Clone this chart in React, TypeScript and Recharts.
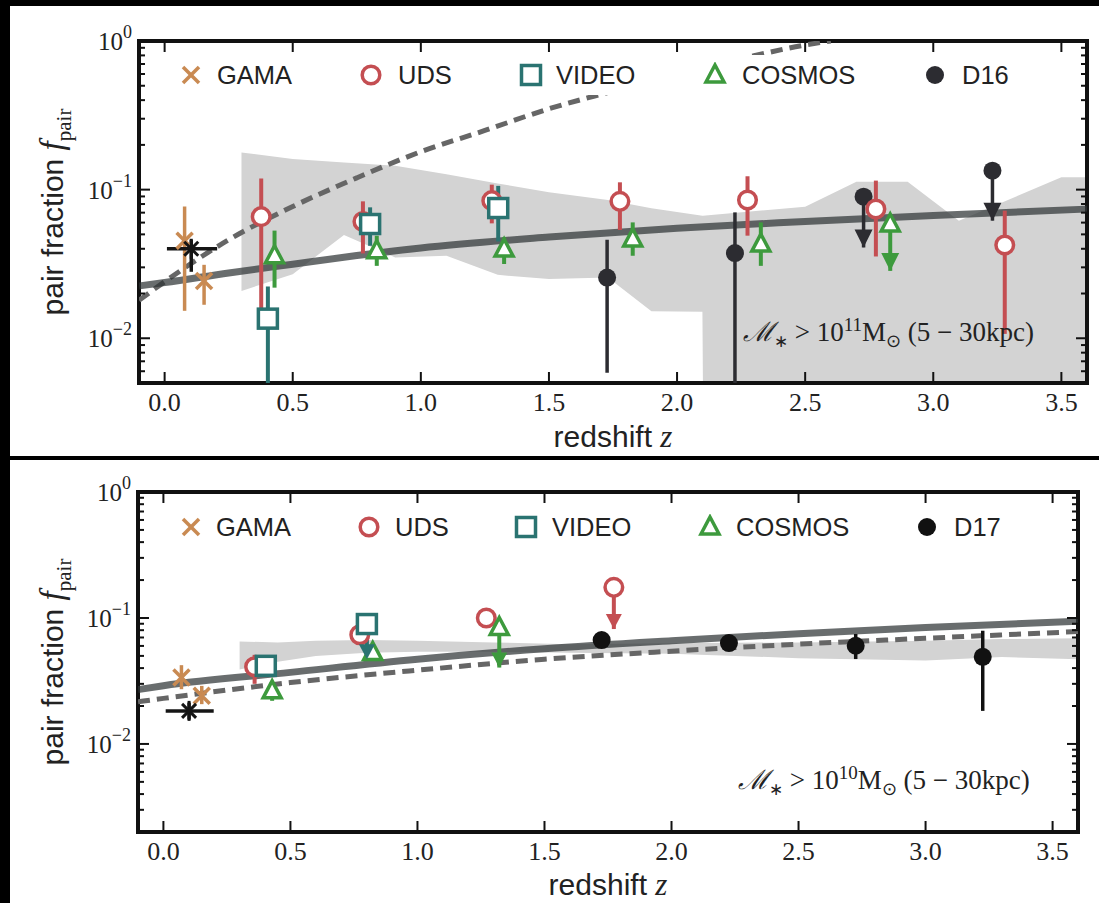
import { Area, ComposedChart, ErrorBar, Legend, Line, ReferenceArea, Scatter, XAxis, YAxis } from 'recharts'

const SANS = '"Liberation Sans", Arial, Helvetica, sans-serif'
const SERIF = '"Liberation Serif", "Times New Roman", Times, serif'
const INK = '#222'

const C_GAMA = '#c98a52'
const C_UDS = '#c44e52'
const C_VIDEO = '#2a7371'
const C_COSMOS = '#3d9a3d'
const C_D16 = '#2c2c31'
const C_D17 = '#111111'
const C_BAND = '#d3d3d3'

const xTicks = [0, 0.5, 1, 1.5, 2, 2.5, 3, 3.5]

// ---- top panel: M* > 1e11 ----
const bandTopZ = [0.3, 0.5, 0.7, 0.9, 1.1, 1.3, 1.5, 1.73, 1.9, 2.099, 2.101, 2.5, 2.7, 2.9, 3.1, 3.5, 3.6]
const bandTopLo = [0.0208, 0.027, 0.0495, 0.035, 0.0359, 0.0267, 0.025, 0.0256, 0.0152, 0.0151, 0.005, 0.005, 0.005, 0.005, 0.005, 0.005, 0.005]
const bandTopHi = [0.178, 0.161, 0.152, 0.145, 0.127, 0.11, 0.096, 0.085, 0.075, 0.0668, 0.0668, 0.0768, 0.113, 0.113, 0.0618, 0.121, 0.121]

const fitTopZ = [-0.1, 0, 0.25, 0.5, 0.75, 1.0, 1.5, 2.0, 2.5, 3.0, 3.6]
const fitTopF = [0.0225, 0.0237, 0.0275, 0.0315, 0.036, 0.0405, 0.048, 0.055, 0.061, 0.067, 0.074]

const dashTopZ = [-0.1, 0, 0.25, 0.5, 0.75, 1.0, 1.25, 1.5, 1.75, 2.0, 2.25, 2.5, 2.6]
const dashTopF = [0.018, 0.024, 0.046, 0.077, 0.12, 0.18, 0.25, 0.35, 0.46, 0.6, 0.76, 0.94, 1.0]

const gamaTopZ = [0.078, 0.154]
const gamaTopF = [0.0453, 0.0243]
const gamaTopLo = [0.0153, 0.0168]
const gamaTopHi = [0.077, 0.0312]

const udsTopZ = [0.377, 0.774, 1.277, 1.777, 2.275, 2.776, 3.279]
const udsTopF = [0.0658, 0.0611, 0.0843, 0.0834, 0.0852, 0.0741, 0.0424]
const udsTopLo = [0.016, 0.0372, 0.0593, 0.0535, 0.049, 0.0355, 0.0107]
const udsTopHi = [0.119, 0.0834, 0.108, 0.112, 0.123, 0.115, 0.0722]

const videoTopZ = [0.403, 0.802, 1.302]
const videoTopF = [0.01355, 0.0587, 0.0752]
const videoTopLo = [0.005, 0.0419, 0.0448]
const videoTopHi = [0.0223, 0.076, 0.106]

const cosmosTopZ = [0.429, 0.828, 1.325, 1.827, 2.327, 2.832]
const cosmosTopF = [0.0359, 0.0388, 0.0398, 0.0465, 0.043, 0.0587]
const cosmosTopLo = [0.0219, 0.0307, 0.0316, 0.0359, 0.0307, 0.0284]
const cosmosTopHi = [0.053, 0.049, 0.0477, 0.0602, 0.0602, 0.0587]

const d16Z = [1.727, 2.226, 2.728, 3.231]
const d16F = [0.0256, 0.0374, 0.0897, 0.134]
const d16Lo = [0.00586, 0.005, 0.0408, 0.0618]
const d16Hi = [0.046, 0.0703, 0.0897, 0.134]

const starTopZ = [0.104]
const starTopF = [0.04]
const starTopLo = [0.028]
const starTopHi = [0.046]
const starTopZLo = [0.009]
const starTopZHi = [0.205]

// upper-limit arrow tips
const d16LimZ = [2.728, 3.231]
const d16LimF = [0.0408, 0.0618]
const cosmosTopLimZ = [2.832]
const cosmosTopLimF = [0.0284]

// ---- bottom panel: M* > 1e10 ----
const bandBotZ = [0.3, 0.45, 0.6, 0.8, 1.0, 1.3, 1.6, 2.0, 2.5, 3.0, 3.3, 3.6]
const bandBotLo = [0.039, 0.045, 0.05, 0.053, 0.054, 0.054, 0.053, 0.052, 0.048, 0.046, 0.049, 0.047]
const bandBotHi = [0.065, 0.064, 0.066, 0.067, 0.066, 0.064, 0.062, 0.063, 0.064, 0.066, 0.068, 0.069]

const fitBotZ = [-0.1, 0, 0.5, 1.0, 1.5, 2.0, 2.5, 3.0, 3.6]
const fitBotF = [0.027, 0.029, 0.037, 0.047, 0.057, 0.066, 0.075, 0.084, 0.094]
const dashBotF = [0.0216, 0.023, 0.0307, 0.0385, 0.047, 0.0545, 0.062, 0.069, 0.078]

const gamaBotZ = [0.071, 0.151]
const gamaBotF = [0.0337, 0.0241]
const gamaBotLo = [0.0272, 0.0207]
const gamaBotHi = [0.0422, 0.0289]

const udsBotZ = [0.359, 0.773, 1.271, 1.773]
const udsBotF = [0.041, 0.0736, 0.1, 0.175]
const udsBotLo = [0.03, 0.0736, 0.1, 0.0817]
const udsBotHi = [0.051, 0.0736, 0.1, 0.175]

const videoBotZ = [0.403, 0.801]
const videoBotF = [0.0417, 0.0895]
const videoBotLo = [0.037, 0.0471]
const videoBotHi = [0.047, 0.0895]

const cosmosBotZ = [0.428, 0.824, 1.322]
const cosmosBotF = [0.0264, 0.0532, 0.0841]
const cosmosBotLo = [0.022, 0.047, 0.0404]
const cosmosBotHi = [0.031, 0.059, 0.0841]

const d17Z = [1.725, 2.226, 2.725, 3.225]
const d17F = [0.0668, 0.0632, 0.0602, 0.0492]
const d17Lo = [0.058, 0.056, 0.0472, 0.0183]
const d17Hi = [0.075, 0.071, 0.0746, 0.0792]

const starBotZ = [0.101]
const starBotF = [0.0183]
const starBotLo = [0.0156]
const starBotHi = [0.0213]
const starBotZLo = [0.009]
const starBotZHi = [0.198]

const udsBotLimZ = [1.773]
const udsBotLimF = [0.0817]
const videoBotLimZ = [0.801]
const videoBotLimF = [0.0471]
const cosmosBotLimZ = [1.322]
const cosmosBotLimF = [0.0404]

// ---- helpers ----
const logTicks = (lo: number) => {
	const out: number[] = []
	for (let e = -3; e <= 0; e++) {
		for (let k = 1; k <= 9; k++) {
			const v = k * Math.pow(10, e)
			if (v >= lo - 1e-12 && v <= 1 + 1e-12) out.push(v)
		}
	}
	return out
}

const line = (z: number[], f: number[]) => z.map((v, i) => ({ z: v, f: f[i] }))
const range = (z: number[], lo: number[], hi: number[]) => z.map((v, i) => ({ z: v, f: [lo[i], hi[i]] }))
const points = (z: number[], f: number[], lo: number[], hi: number[]) =>
	z.map((v, i) => ({ z: v, f: f[i], err: [f[i] - lo[i], hi[i] - f[i]] }))
const starRows = (z: number[], f: number[], lo: number[], hi: number[], zlo: number[], zhi: number[]) =>
	z.map((v, i) => ({ z: v, f: f[i], err: [f[i] - lo[i], hi[i] - f[i]], zerr: [v - zlo[i], zhi[i] - v] }))

// ---- marker shapes ----
const xMark = (color: string) => (p: any) => (
	<g stroke={color} strokeWidth={3.5}>
		<line x1={p.cx - 8} y1={p.cy - 8} x2={p.cx + 8} y2={p.cy + 8} />
		<line x1={p.cx - 8} y1={p.cy + 8} x2={p.cx + 8} y2={p.cy - 8} />
	</g>
)
const ring = (color: string) => (p: any) => <circle cx={p.cx} cy={p.cy} r={8.8} fill="#fff" stroke={color} strokeWidth={3.5} />
const box = (color: string) => (p: any) => (
	<rect x={p.cx - 9.5} y={p.cy - 9.5} width={19} height={19} fill="#fff" stroke={color} strokeWidth={3.5} />
)
const tri = (color: string) => (p: any) => (
	<path d={`M${p.cx} ${p.cy - 10}L${p.cx + 9} ${p.cy + 7}L${p.cx - 9} ${p.cy + 7}Z`} fill="#fff" stroke={color} strokeWidth={3.5} />
)
const dot = (color: string) => (p: any) => <circle cx={p.cx} cy={p.cy} r={9} fill={color} />
const star = (color: string) => (p: any) => (
	<g stroke={color} strokeWidth={3}>
		<line x1={p.cx} y1={p.cy - 10} x2={p.cx} y2={p.cy + 10} />
		<line x1={p.cx - 7} y1={p.cy - 7} x2={p.cx + 7} y2={p.cy + 7} />
		<line x1={p.cx - 7} y1={p.cy + 7} x2={p.cx + 7} y2={p.cy - 7} />
	</g>
)
const head = (color: string, w: number, h: number) => (p: any) => (
	<path d={`M${p.cx - w / 2} ${p.cy - h}L${p.cx + w / 2} ${p.cy - h}L${p.cx} ${p.cy}Z`} fill={color} />
)

// ---- text pieces ----
const YTitle = ({ cx, cy }: { cx: number; cy: number }) => (
	<div
		style={{
			position: 'absolute', left: cx, top: cy, transform: 'translate(-50%, -50%) rotate(-90deg)',
			whiteSpace: 'nowrap', fontFamily: SANS, fontSize: 30, color: INK, lineHeight: '36px',
		}}
	>
		pair fraction <span style={{ fontFamily: SERIF, fontStyle: 'italic', fontSize: 33 }}>f</span>
		<span style={{ fontFamily: SERIF, fontSize: 21, position: 'relative', top: 8 }}>pair</span>
	</div>
)

const XTitle = ({ cx, cy }: { cx: number; cy: number }) => (
	<div
		style={{
			position: 'absolute', left: cx, top: cy, transform: 'translate(-50%, -50%)',
			whiteSpace: 'nowrap', fontFamily: SANS, fontSize: 30, color: INK, lineHeight: '36px',
		}}
	>
		redshift <span style={{ fontFamily: SERIF, fontStyle: 'italic', fontSize: 31 }}>z</span>
	</div>
)

const Note = ({ x, y, exp }: { x: number; y: number; exp: string }) => (
	<div
		style={{
			position: 'absolute', left: x, top: y, whiteSpace: 'nowrap', fontFamily: SERIF, fontSize: 27,
			color: INK, lineHeight: '32px',
		}}
	>
		<span style={{ fontStyle: 'italic' }}>ℳ</span>
		<span style={{ fontSize: 17, position: 'relative', top: 6 }}>∗</span> &gt; 10
		<span style={{ fontSize: 19, position: 'relative', top: -10 }}>{exp}</span>M
		<span style={{ fontSize: 18, position: 'relative', top: 6 }}>⊙</span> (5 − 30kpc)
	</div>
)

const legendShapes = [xMark(C_GAMA), ring(C_UDS), box(C_VIDEO), tri(C_COSMOS)]
const legendNames = ['GAMA', 'UDS', 'VIDEO', 'COSMOS']

interface IPanel {
	height: number
	margin: { top: number; right: number; bottom: number; left: number }
	yMin: number
	band: any[]
	fit: any[]
	dash: any[]
	gama: any[]
	uds: any[]
	video: any[]
	cosmos: any[]
	dark: any[]
	darkColor: string
	darkName: string
	stars: any[]
	heads: { color: string; rows: any[] }[]
	headW: number
	headH: number
	legendMarks: number[][]
	legendTop: number
}

const Panel = (props: IPanel) => {
	const { height, margin, yMin, darkColor } = props
	const width = 1099
	// axes are 1px wide/high, so the plot box is the margin box shrunk by one
	const pw = width - margin.left - margin.right - 1
	const ph = height - margin.top - margin.bottom - 1

	const renderXTick = (p: any) => {
		const { x, y, payload } = p
		return (
			<g>
				<line x1={x} x2={x} y1={y} y2={y - 11} stroke="#111" strokeWidth={2} />
				<line x1={x} x2={x} y1={y - ph} y2={y - ph + 11} stroke="#111" strokeWidth={2} />
				<text x={x} y={y + 28} textAnchor="middle" fontFamily={SERIF} fontSize={26} fill={INK}>
					{Number(payload.value).toFixed(1)}
				</text>
			</g>
		)
	}

	const renderYTick = (p: any) => {
		const { x, y, payload } = p
		const lg = Math.log10(payload.value)
		const major = Math.abs(lg - Math.round(lg)) < 1e-6
		const len = major ? 11 : 6
		const e = Math.round(lg)
		return (
			<g>
				<line x1={x} x2={x + len} y1={y} y2={y} stroke="#111" strokeWidth={2} />
				<line x1={x + pw} x2={x + pw - len} y1={y} y2={y} stroke="#111" strokeWidth={2} />
				{major && (
					<text x={x - 7} y={y + 9} textAnchor="end" fontFamily={SERIF} fontSize={25} fill={INK}>
						10
						<tspan dy={-12} fontSize={18}>
							{e === 0 ? '0' : `−${-e}`}
						</tspan>
					</text>
				)}
			</g>
		)
	}

	const renderLegend = () => {
		const left = 160
		const names = [...legendNames, props.darkName]
		const shapes = [...legendShapes, dot(darkColor)]
		return (
			<div style={{ position: 'relative', width: '100%', height: '100%', background: '#fff' }}>
				{props.legendMarks.map(([mx, tx], i) => (
					<div key={`item-${i}`}>
						<svg width={26} height={26} style={{ position: 'absolute', left: mx - left - 13, top: 7 }}>
							{shapes[i]({ cx: 13, cy: 13 })}
						</svg>
						<span
							style={{
								position: 'absolute', left: tx - left, top: 7, lineHeight: '26px', fontFamily: SANS,
								fontSize: 25.5, color: INK, whiteSpace: 'nowrap',
							}}
						>
							{names[i]}
						</span>
					</div>
				))}
			</div>
		)
	}

	return (
		<ComposedChart width={width} height={height} margin={margin}>
			<XAxis
				type="number"
				dataKey="z"
				domain={[-0.1, 3.6]}
				allowDataOverflow
				ticks={xTicks}
				interval={0}
				height={1}
				tickSize={0}
				tickMargin={0}
				axisLine={false}
				tickLine={false}
				tick={renderXTick}
			/>
			<YAxis
				type="number"
				dataKey="f"
				scale="log"
				domain={[yMin, 1]}
				allowDataOverflow
				ticks={logTicks(yMin)}
				interval={0}
				width={1}
				tickSize={0}
				tickMargin={0}
				axisLine={false}
				tickLine={false}
				tick={renderYTick}
			/>
			<Area data={props.band} dataKey="f" type="linear" stroke="none" fill={C_BAND} fillOpacity={1} isAnimationActive={false} />
			<Line
				data={props.dash}
				dataKey="f"
				type="monotone"
				stroke="#666"
				strokeWidth={5}
				strokeDasharray="12 7"
				dot={false}
				isAnimationActive={false}
			/>
			<Line
				data={props.fit}
				dataKey="f"
				type="monotone"
				stroke="#2f3436"
				strokeOpacity={0.72}
				strokeWidth={7}
				dot={false}
				isAnimationActive={false}
			/>
			<Scatter data={props.gama} dataKey="f" shape={xMark(C_GAMA)} isAnimationActive={false}>
				<ErrorBar dataKey="err" direction="y" width={0} stroke={C_GAMA} strokeWidth={3.5} />
			</Scatter>
			<Scatter data={props.stars} dataKey="f" shape={star('#151515')} isAnimationActive={false}>
				<ErrorBar dataKey="err" direction="y" width={0} stroke="#151515" strokeWidth={3.5} />
				<ErrorBar dataKey="zerr" direction="x" width={0} stroke="#151515" strokeWidth={3.5} />
			</Scatter>
			<Scatter data={props.dark} dataKey="f" shape={dot(darkColor)} isAnimationActive={false}>
				<ErrorBar dataKey="err" direction="y" width={0} stroke={darkColor} strokeWidth={3.5} />
			</Scatter>
			<Scatter data={props.uds} dataKey="f" shape={ring(C_UDS)} isAnimationActive={false}>
				<ErrorBar dataKey="err" direction="y" width={0} stroke={C_UDS} strokeWidth={4} />
			</Scatter>
			<Scatter data={props.video} dataKey="f" shape={box(C_VIDEO)} isAnimationActive={false}>
				<ErrorBar dataKey="err" direction="y" width={0} stroke={C_VIDEO} strokeWidth={4} />
			</Scatter>
			<Scatter data={props.cosmos} dataKey="f" shape={tri(C_COSMOS)} isAnimationActive={false}>
				<ErrorBar dataKey="err" direction="y" width={0} stroke={C_COSMOS} strokeWidth={4} />
			</Scatter>
			{props.heads.map((h, i) => (
				<Scatter
					key={`head-${i}`}
					data={h.rows}
					dataKey="f"
					shape={head(h.color, props.headW, props.headH)}
					isAnimationActive={false}
				/>
			))}
			<ReferenceArea x1={-0.1} x2={3.6} y1={yMin} y2={1} fill="none" stroke="#111" strokeWidth={4} ifOverflow="visible" />
			<Legend
				layout="vertical"
				align="center"
				verticalAlign="middle"
				content={renderLegend}
				wrapperStyle={{ left: 160, top: props.legendTop, width: 880, height: 40 }}
			/>
		</ComposedChart>
	)
}

const App = () => {
	return (
		<div style={{ position: 'fixed', left: 0, top: 0, width: 1099, height: 903, background: '#000', overflow: 'hidden' }}>
			<div style={{ position: 'absolute', left: 10, top: 6, width: 1089, height: 450, background: '#fff' }} />
			<div style={{ position: 'absolute', left: 10, top: 460, width: 1089, height: 443, background: '#fff' }} />

			<div style={{ position: 'absolute', left: 0, top: 0 }}>
				<Panel
					height={457}
					margin={{ top: 41, right: 12, bottom: 73, left: 138 }}
					yMin={0.005}
					band={range(bandTopZ, bandTopLo, bandTopHi)}
					fit={line(fitTopZ, fitTopF)}
					dash={line(dashTopZ, dashTopF)}
					gama={points(gamaTopZ, gamaTopF, gamaTopLo, gamaTopHi)}
					uds={points(udsTopZ, udsTopF, udsTopLo, udsTopHi)}
					video={points(videoTopZ, videoTopF, videoTopLo, videoTopHi)}
					cosmos={points(cosmosTopZ, cosmosTopF, cosmosTopLo, cosmosTopHi)}
					dark={points(d16Z, d16F, d16Lo, d16Hi)}
					darkColor={C_D16}
					darkName="D16"
					stars={starRows(starTopZ, starTopF, starTopLo, starTopHi, starTopZLo, starTopZHi)}
					heads={[
						{ color: C_D16, rows: line(d16LimZ, d16LimF) },
						{ color: C_COSMOS, rows: line(cosmosTopLimZ, cosmosTopLimF) },
					]}
					headW={18}
					headH={18}
					legendMarks={[[191, 217], [371, 398], [531, 556], [715, 742], [935, 962]]}
					legendTop={55}
				/>
			</div>
			<div style={{ position: 'absolute', left: 0, top: 460 }}>
				<Panel
					height={443}
					margin={{ top: 32, right: 21, bottom: 70, left: 137 }}
					yMin={0.002}
					band={range(bandBotZ, bandBotLo, bandBotHi)}
					fit={line(fitBotZ, fitBotF)}
					dash={line(fitBotZ, dashBotF)}
					gama={points(gamaBotZ, gamaBotF, gamaBotLo, gamaBotHi)}
					uds={points(udsBotZ, udsBotF, udsBotLo, udsBotHi)}
					video={points(videoBotZ, videoBotF, videoBotLo, videoBotHi)}
					cosmos={points(cosmosBotZ, cosmosBotF, cosmosBotLo, cosmosBotHi)}
					dark={points(d17Z, d17F, d17Lo, d17Hi)}
					darkColor={C_D17}
					darkName="D17"
					stars={starRows(starBotZ, starBotF, starBotLo, starBotHi, starBotZLo, starBotZHi)}
					heads={[
						{ color: C_UDS, rows: line(udsBotLimZ, udsBotLimF) },
						{ color: C_VIDEO, rows: line(videoBotLimZ, videoBotLimF) },
						{ color: C_COSMOS, rows: line(cosmosBotLimZ, cosmosBotLimF) },
					]}
					headW={16}
					headH={15}
					legendMarks={[[191, 216], [369, 395], [526, 552], [710, 736], [927, 954]]}
					legendTop={47}
				/>
			</div>

			<YTitle cx={54} cy={212} />
			<XTitle cx={613} cy={437} />
			<Note x={743} y={316} exp="11" />

			<YTitle cx={54} cy={662} />
			<XTitle cx={608} cy={885} />
			<Note x={738} y={764} exp="10" />
		</div>
	)
}

export default App
